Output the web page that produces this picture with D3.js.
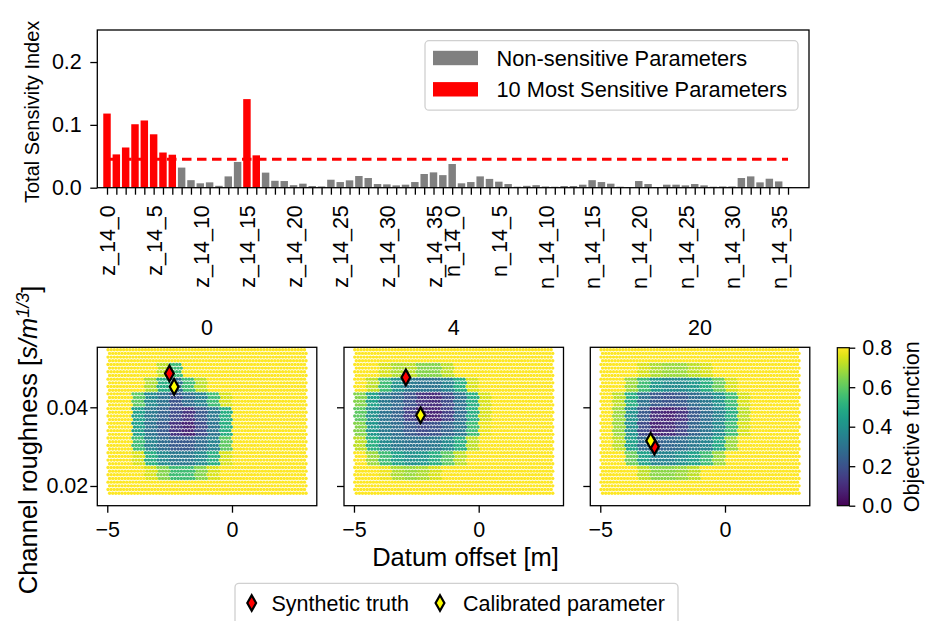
<!DOCTYPE html>
<html><head><meta charset="utf-8">
<script src="https://cdn.jsdelivr.net/npm/d3@7"></script>
<style>
body{margin:0;background:#fff}
svg text{font-family:"Liberation Sans",Arial,Helvetica,sans-serif;fill:#000}
</style>
</head><body><svg id="c" width="931" height="621"></svg>
<script>
// ---------------- DATA ----------------
const zNames = d3.range(37).map(i => "z_14_" + i);
const nNames = d3.range(37).map(i => "n_14_" + i);
const params = zNames.concat(nNames);
const zSensitivity = [0.118,0.053,0.064,0.101,0.107,0.085,0.056,0.0525,0.032,0.012,0.007,0.0085,0.003,0.018,0.041,0.141,0.0515,0.024,0.011,0.0106,0.004,0.0064,0.0027,0.002,0.0127,0.009,0.0117,0.0186,0.0154,0.0058,0.0053,0.0037,0.0048,0.009,0.0218,0.0244,0.020];
const nSensitivity = [0.0377,0.007,0.009,0.018,0.014,0.0096,0.0058,0.0016,0.003,0.004,0.002,0.0016,0.0027,0.0027,0.0048,0.012,0.009,0.0064,0.0016,0.001,0.0106,0.0058,0.001,0.0048,0.0048,0.0037,0.0058,0.0037,0.0016,0.002,0.002,0.0154,0.018,0.0085,0.0143,0.010,0.001];
const sensitivity = zSensitivity.concat(nSensitivity);
const topTen = ["z_14_0","z_14_1","z_14_2","z_14_3","z_14_4","z_14_5","z_14_6","z_14_7","z_14_15","z_14_16"];
const threshold = 0.0452;
const topYTicks = [0.0, 0.1, 0.2];
const topLegend = ["Non-sensitive Parameters", "10 Most Sensitive Parameters"];

const panelTitles = ["0", "4", "20"];
const gridXRange = [-5, 3];          // extent of sampled datum offset
const gridYRange = [0.0177, 0.0551]; // extent of sampled roughness
// objective function read per cell (rows top->bottom, 16 columns left->right)
const grid0 = [
 [.8,.8,.8,.8,.8,.8,.8,.8,.8,.8,.8,.8,.8,.8,.8,.8],
 [.8,.8,.8,.8,.72,.55,.8,.8,.8,.8,.8,.8,.8,.8,.8,.8],
 [.8,.8,.8,.7,.5,.3,.55,.72,.8,.8,.8,.8,.8,.8,.8,.8],
 [.8,.8,.6,.38,.3,.2,.28,.35,.55,.75,.8,.8,.8,.8,.8,.8],
 [.8,.8,.45,.32,.25,.18,.12,.22,.32,.5,.8,.8,.8,.8,.8,.8],
 [.8,.8,.45,.3,.22,.12,.08,.18,.3,.5,.8,.8,.8,.8,.8,.8],
 [.8,.8,.55,.35,.28,.22,.22,.28,.35,.6,.8,.8,.8,.8,.8,.8],
 [.8,.8,.75,.5,.38,.32,.32,.38,.5,.75,.8,.8,.8,.8,.8,.8],
 [.8,.8,.8,.75,.65,.55,.55,.65,.75,.8,.8,.8,.8,.8,.8,.8],
 [.8,.8,.8,.8,.8,.8,.8,.8,.8,.8,.8,.8,.8,.8,.8,.8]
];
const grid4 = [
 [.8,.8,.8,.8,.8,.8,.8,.8,.8,.8,.8,.8,.8,.8,.8,.8],
 [.8,.8,.75,.7,.72,.65,.65,.72,.8,.8,.8,.8,.8,.8,.8,.8],
 [.8,.72,.55,.4,.32,.3,.3,.35,.5,.75,.8,.8,.8,.8,.8,.8],
 [.65,.45,.32,.27,.2,.12,.1,.18,.3,.5,.75,.8,.8,.8,.8,.8],
 [.6,.4,.3,.25,.15,.08,.08,.15,.28,.5,.75,.8,.8,.8,.8,.8],
 [.65,.42,.32,.28,.22,.18,.2,.25,.32,.55,.78,.8,.8,.8,.8,.8],
 [.72,.5,.38,.32,.3,.3,.32,.38,.5,.72,.8,.8,.8,.8,.8,.8],
 [.8,.68,.55,.45,.4,.42,.5,.6,.72,.8,.8,.8,.8,.8,.8,.8],
 [.8,.8,.78,.7,.68,.7,.75,.8,.8,.8,.8,.8,.8,.8,.8,.8],
 [.8,.8,.8,.8,.8,.8,.8,.8,.8,.8,.8,.8,.8,.8,.8,.8]
];
const grid20 = [
 [.8,.8,.8,.8,.8,.8,.8,.8,.8,.8,.8,.8,.8,.8,.8,.8],
 [.8,.8,.8,.75,.7,.68,.68,.72,.75,.8,.8,.8,.8,.8,.8,.8],
 [.8,.8,.68,.55,.42,.38,.38,.42,.5,.62,.75,.8,.8,.8,.8,.8],
 [.8,.72,.5,.3,.22,.2,.22,.28,.32,.4,.55,.75,.8,.8,.8,.8],
 [.8,.68,.4,.22,.1,.08,.12,.22,.28,.35,.5,.72,.8,.8,.8,.8],
 [.8,.68,.4,.18,.08,.1,.16,.25,.3,.38,.55,.75,.8,.8,.8,.8],
 [.8,.72,.45,.28,.24,.26,.28,.32,.36,.48,.68,.8,.8,.8,.8,.8],
 [.8,.8,.62,.45,.36,.36,.4,.45,.55,.68,.8,.8,.8,.8,.8,.8],
 [.8,.8,.8,.72,.66,.66,.68,.72,.8,.8,.8,.8,.8,.8,.8,.8],
 [.8,.8,.8,.8,.8,.8,.8,.8,.8,.8,.8,.8,.8,.8,.8,.8]
];
const grids = [grid0, grid4, grid20];
const truthX = [-2.51, -2.92, -2.83];
const truthY = [0.0486, 0.0476, 0.0300];
const calibX = [-2.32, -2.33, -2.98];
const calibY = [0.0452, 0.0380, 0.0315];
const panelXTicks = [-5, 0];
const panelYTicks = [0.02, 0.04];
const cbarTicks = [0.0, 0.2, 0.4, 0.6, 0.8];
const bottomLegend = ["Synthetic truth", "Calibrated parameter"];

// ---------------- DRAW ----------------
const svg = d3.select("#c");
const fs = "21.5px";
const fsBig = "25.5px";
const TICK = 7;

// ===== Top bar chart =====
const tb = {l: 97.3, r: 809, t: 30, b: 187.7};
const xTop = d3.scaleLinear().domain([-1.04, 75.25]).range([tb.l, tb.r]);
const yTop = d3.scaleLinear().domain([0, 0.251]).range([tb.b, tb.t]);
const barW = xTop(0.8) - xTop(0);
const gTop = svg.append("g");

gTop.selectAll("rect.bar").data(params).join("rect")
  .attr("x", (d, i) => xTop(i) - barW / 2)
  .attr("width", barW)
  .attr("y", (d, i) => yTop(sensitivity[i]))
  .attr("height", (d, i) => yTop(0) - yTop(sensitivity[i]))
  .attr("fill", d => topTen.includes(d) ? "#ff0000" : "#808080");

gTop.append("line")
  .attr("x1", xTop(0)).attr("x2", xTop(params.length - 1))
  .attr("y1", yTop(threshold)).attr("y2", yTop(threshold))
  .attr("stroke", "#ff0000").attr("stroke-width", 3)
  .attr("stroke-dasharray", "9.5,5.5");

const xAxTop = gTop.append("g").attr("transform", `translate(0,${tb.b})`)
  .call(d3.axisBottom(xTop).tickValues(d3.range(params.length)).tickSize(TICK).tickSizeOuter(0)
    .tickFormat(i => (+params[i].split("_")[2]) % 5 === 0 ? params[i] : ""));
xAxTop.select(".domain").remove();
xAxTop.selectAll(".tick line").attr("stroke", "#000").attr("stroke-width", 1.3);
xAxTop.selectAll(".tick text")
  .attr("transform", "rotate(-90)")
  .attr("x", -17.5).attr("y", 0).attr("dy", "0.36em")
  .attr("text-anchor", "end").style("font-size", fs);

const yAxTop = gTop.append("g").attr("transform", `translate(${tb.l},0)`)
  .call(d3.axisLeft(yTop).tickValues(topYTicks).tickSize(TICK).tickFormat(d3.format(".1f")));
yAxTop.select(".domain").remove();
yAxTop.selectAll(".tick line").attr("stroke", "#000").attr("stroke-width", 1.3);
yAxTop.selectAll(".tick text").attr("x", -15.5).style("font-size", fs);

gTop.append("rect").attr("x", tb.l).attr("y", tb.t)
  .attr("width", tb.r - tb.l).attr("height", tb.b - tb.t)
  .attr("fill", "none").attr("stroke", "#000").attr("stroke-width", 1.3);

gTop.append("text")
  .attr("transform", `translate(31.5,${(tb.t + tb.b) / 2 + 3}) rotate(-90)`)
  .attr("text-anchor", "middle").attr("dy", "0.35em").style("font-size", "20px")
  .text("Total Sensivity Index");

// legend
const lg = gTop.append("g");
lg.append("rect").attr("x", 425).attr("y", 40.7).attr("width", 373).attr("height", 69.5)
  .attr("rx", 4).attr("fill", "#fff").attr("fill-opacity", 0.8)
  .attr("stroke", "#d0d0d0").attr("stroke-width", 1.3);
const legColors = ["#808080", "#ff0000"];
topLegend.forEach((t, i) => {
  const yc = 58 + i * 31.3;
  lg.append("rect").attr("x", 433).attr("y", yc - 7.2).attr("width", 45).attr("height", 14.4)
    .attr("fill", legColors[i]);
  lg.append("text").attr("x", 496.5).attr("y", yc).attr("dy", "0.36em")
    .style("font-size", "21.8px").text(t);
});

// ===== Bottom panels =====
const pan = {t: 347.3, b: 505.7, w: 219.5};
const panelLeft = [97.3, 344, 590.3];
const viridisScale = d3.scaleSequential(d3.interpolateViridis).domain([0, 0.8]);
const diamond = (w, h) => `M0,${-h}L${w},0L0,${h}L${-w},0Z`;

panelLeft.forEach((pl, p) => {
  const g = svg.append("g");
  const x = d3.scaleLinear().domain([-5.4, 3.4]).range([pl, pl + pan.w]);
  const y = d3.scaleLinear().domain([0.01499, 0.05525]).range([pan.b, pan.t]);
  const grid = grids[p];
  const nr = grid.length, nc = grid[0].length;
  const cw = (gridXRange[1] - gridXRange[0]) / nc;
  const ch = (gridYRange[1] - gridYRange[0]) / nr;
  const sub = 4;
  const pts = [];
  grid.forEach((row, r) => row.forEach((v, c) => {
    for (let a = 0; a < sub; a++) for (let b = 0; b < sub; b++) {
      const off = (b % 2) ? 0.25 : -0.25;
      const xv = gridXRange[0] + (c + (a + 0.5 + off) / sub) * cw;
      const yv = gridYRange[1] - (r + (b + 0.5) / sub) * ch;
      pts.push({x: xv, y: yv, v: v});
    }
  }));
  pts.sort((m, n) => n.v - m.v);
  g.selectAll("circle").data(pts).join("circle")
    .attr("cx", d => x(d.x)).attr("cy", d => y(d.y)).attr("r", 1.7)
    .attr("fill", d => viridisScale(d.v));

  // markers
  g.append("path").attr("d", diamond(4.4, 7.8))
    .attr("transform", `translate(${x(truthX[p])},${y(truthY[p])})`)
    .attr("fill", "#ff0000").attr("stroke", "#000").attr("stroke-width", 2.2);
  g.append("path").attr("d", diamond(4.4, 7.8))
    .attr("transform", `translate(${x(calibX[p])},${y(calibY[p])})`)
    .attr("fill", "#ffff00").attr("stroke", "#000").attr("stroke-width", 2.2);

  const xa = g.append("g").attr("transform", `translate(0,${pan.b})`)
    .call(d3.axisBottom(x).tickValues(panelXTicks).tickSize(TICK).tickFormat(d3.format("d")));
  xa.select(".domain").remove();
  xa.selectAll(".tick line").attr("stroke", "#000").attr("stroke-width", 1.3);
  xa.selectAll(".tick text").attr("y", 16).style("font-size", fs);

  const ya = g.append("g").attr("transform", `translate(${pl},0)`)
    .call(d3.axisLeft(y).tickValues(panelYTicks).tickSize(TICK)
      .tickFormat(p === 0 ? d3.format(".2f") : () => ""));
  ya.select(".domain").remove();
  ya.selectAll(".tick line").attr("stroke", "#000").attr("stroke-width", 1.3);
  ya.selectAll(".tick text").attr("x", -9).style("font-size", fs);

  g.append("rect").attr("x", pl).attr("y", pan.t).attr("width", pan.w).attr("height", pan.b - pan.t)
    .attr("fill", "none").attr("stroke", "#000").attr("stroke-width", 1.3);

  g.append("text").attr("x", pl + pan.w / 2).attr("y", 335).attr("text-anchor", "middle")
    .style("font-size", fs).text(panelTitles[p]);
});

// colorbar
const cb = {l: 837.3, r: 849.3, t: 347.7, b: 505.7};
const defs = svg.append("defs");
const grad = defs.append("linearGradient").attr("id", "vir").attr("x1", 0).attr("x2", 0).attr("y1", 1).attr("y2", 0);
d3.range(0, 1.0001, 0.05).forEach(t => grad.append("stop").attr("offset", t).attr("stop-color", d3.interpolateViridis(t)));
svg.append("rect").attr("x", cb.l).attr("y", cb.t).attr("width", cb.r - cb.l).attr("height", cb.b - cb.t)
  .attr("fill", "url(#vir)").attr("stroke", "#000").attr("stroke-width", 1.2);
const yCb = d3.scaleLinear().domain([0, 0.8]).range([cb.b, cb.t]);
const cba = svg.append("g").attr("transform", `translate(${cb.r},0)`)
  .call(d3.axisRight(yCb).tickValues(cbarTicks).tickSize(TICK - 1).tickFormat(d3.format(".1f")));
cba.select(".domain").remove();
cba.selectAll(".tick line").attr("stroke", "#000").attr("stroke-width", 1.3);
cba.selectAll(".tick text").attr("x", 13).style("font-size", fs);
svg.append("text").attr("transform", `translate(911.5,${(cb.t + cb.b) / 2}) rotate(-90)`)
  .attr("text-anchor", "middle").attr("dy", "0.35em").style("font-size", fs).text("Objective function");

// shared labels
svg.append("text").attr("x", 465.5).attr("y", 566).attr("text-anchor", "middle")
  .style("font-size", fsBig).text("Datum offset [m]");
const yl = svg.append("text").attr("transform", "translate(28,440) rotate(-90)")
  .attr("text-anchor", "middle").attr("dy", "0.35em").style("font-size", fsBig);
yl.append("tspan").text("Channel roughness [");
yl.append("tspan").style("font-style", "italic").text("s/m");
yl.append("tspan").attr("dy", "-0.45em").style("font-size", "18px").style("font-style", "italic").text("1/3");
yl.append("tspan").attr("dy", "0.45em").text("]");

// bottom legend
const bl = svg.append("g");
bl.append("rect").attr("x", 235).attr("y", 583.3).attr("width", 443).attr("height", 48)
  .attr("rx", 4).attr("fill", "#fff").attr("stroke", "#d0d0d0").attr("stroke-width", 1.3);
const blColors = ["#ff0000", "#ffff00"];
const blMarkX = [251.7, 440];
const blTextX = [271.5, 463];
bottomLegend.forEach((t, i) => {
  bl.append("path").attr("d", diamond(4.4, 7.8))
    .attr("transform", `translate(${blMarkX[i]},603)`)
    .attr("fill", blColors[i]).attr("stroke", "#000").attr("stroke-width", 2.2);
  bl.append("text").attr("x", blTextX[i]).attr("y", 603).attr("dy", "0.36em")
    .style("font-size", fs).text(t);
});
</script>
</body></html>
